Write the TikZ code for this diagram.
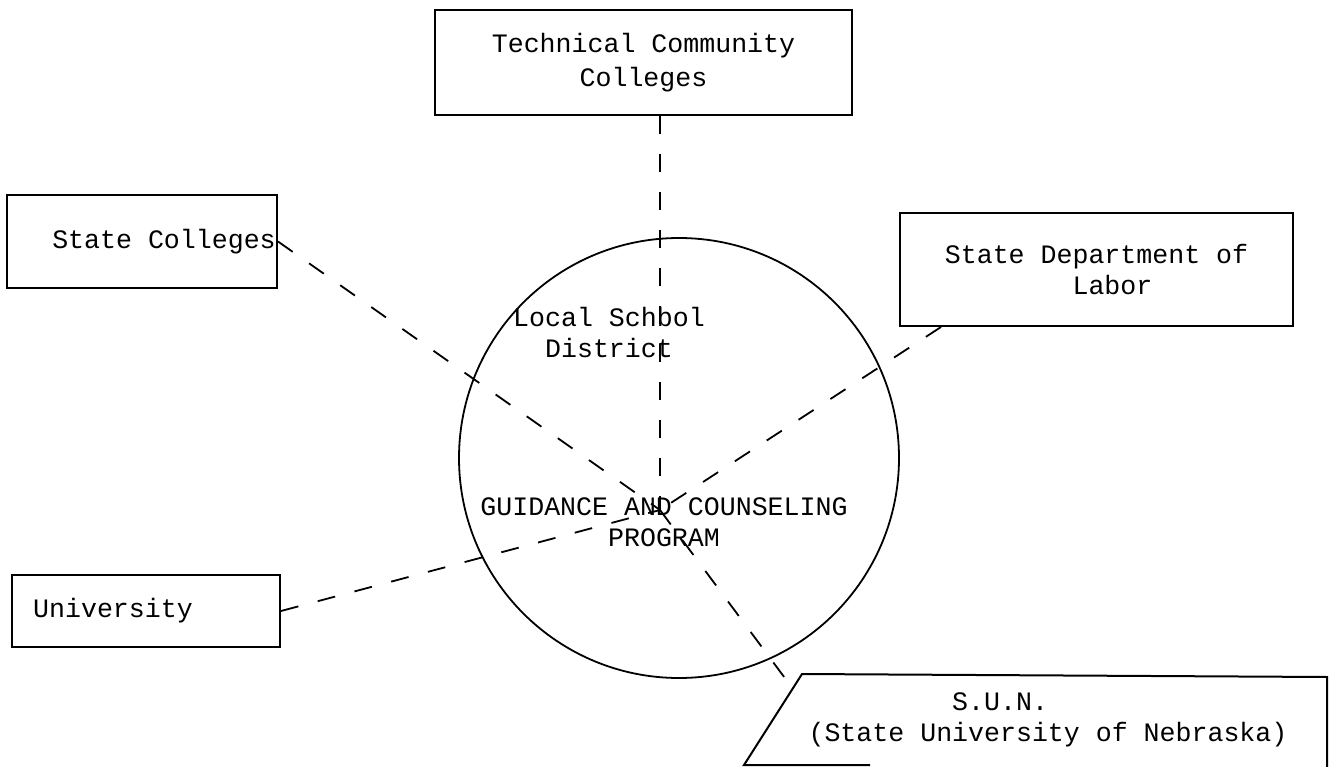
\documentclass[tikz,border=0pt]{standalone}
\usepackage{fontspec}
\setmonofont{Liberation Mono}
\usetikzlibrary{calc}
\begin{document}
\begin{tikzpicture}[x=1pt,y=-1pt,
  every node/.style={font=\ttfamily\fontsize{26.6}{31}\selectfont},
  box/.style={draw, line width=2pt, inner sep=0pt},
  lbl/.style={inner sep=0pt, align=center},
  link/.style={line width=1.8pt, dash pattern=on 18pt off 20pt}]
\useasboundingbox (0,0) rectangle (1329,767);

% hub where the connectors meet
\coordinate (hub) at (660,510);

% circle
\node[draw, circle, line width=1.8pt, minimum size=440pt, inner sep=0pt] (lsd) at (679,458) {};

% boxes
\node[box, minimum width=417pt, minimum height=105pt, align=center] (tech) at (643.5,62.5)
  {Technical Community\\[3pt]Colleges};
\node[box, minimum width=270pt, minimum height=93pt] (sc) at (142,241.5)
  {\hspace*{44pt}State Colleges};
\node[box, minimum width=393pt, minimum height=113pt, align=left] (labor) at (1096.5,269.5)
  {State Department of\\\phantom{XXXXXXXX}Labor};
\node[box, minimum width=268pt, minimum height=72pt] (univ) at (146,611)
  {University\hspace*{66pt}};

% S.U.N. box (open slanted shape)
\coordinate (sunTL) at (802,674);
\coordinate (sunTR) at (1327,677);
\coordinate (sunBR) at (1327,767);
\coordinate (sunBL) at (744,765);
\coordinate (sunB) at (870,765);
\draw[line width=2pt] (sunB) -- (sunBL) -- (sunTL) -- (sunTR) -- (sunBR);
\node[lbl, align=left] (sun) at (1048,720)
  {\phantom{XXXXXXXXX}S.U.N.\\(State University of Nebraska)};
\coordinate (sunin) at ($(sunTL)!0.16!(sunBL)$);

% connectors
\draw[link] (tech.south -| hub) -- (hub);
\draw[link] (sc.east) -- (hub);
\draw[link] ([xshift=42pt]labor.south west) -- (hub);
\draw[link] (univ.east) -- (hub);
\draw[link] (hub) -- (sunin);

% texts inside the circle
\node[lbl] (lsdtext) at (609,332) {Local Schbol\\District};
\node[lbl] (gcp) at (664,522) {GUIDANCE AND COUNSELING\\PROGRAM};
\end{tikzpicture}
\end{document}
